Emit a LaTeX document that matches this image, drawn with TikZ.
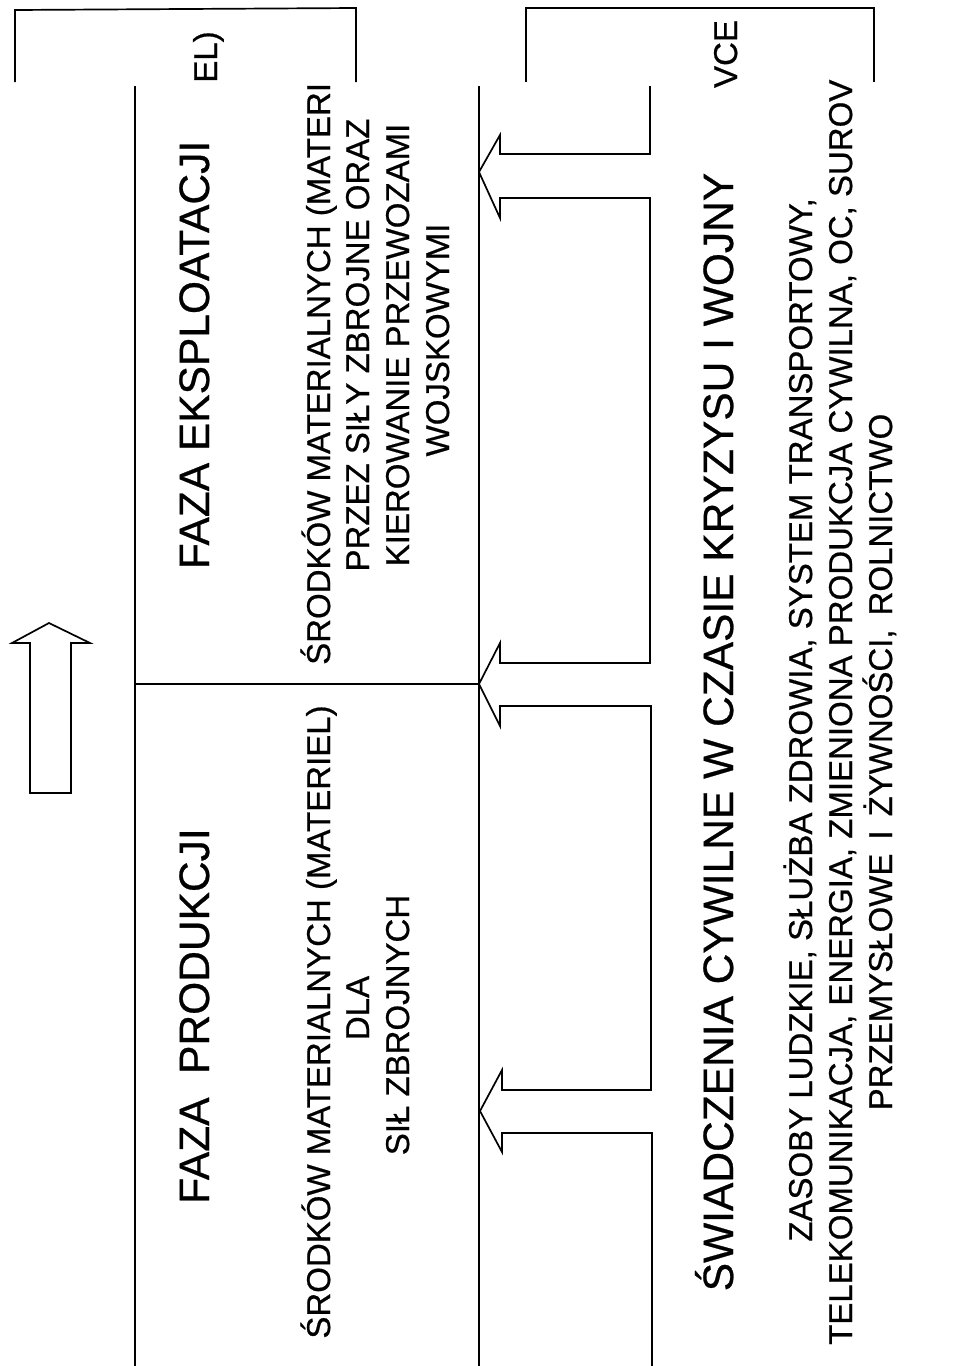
\documentclass[tikz,border=0pt]{standalone}
\usepackage{fontspec}
\setmainfont{Liberation Sans}[FakeBold=0.6]
\tikzset{
  ln/.style={line width=1.7pt, line join=miter},
  body/.style={rotate=90, anchor=base, inner sep=0pt, font=\fontsize{33}{39}\selectfont},
  bodystart/.style={rotate=90, anchor=base west, inner sep=0pt, font=\fontsize{33}{39}\selectfont},
  title/.style={rotate=90, anchor=base, inner sep=0pt, font=\fontsize{42.5}{50}\selectfont},
}
\begin{document}
\begin{tikzpicture}[x=1pt,y=-1pt]
\useasboundingbox (0,0) rectangle (953,1366);
% top partial boxes
\draw[ln] (15,82) -- (15,10) -- (356,8) -- (356,82);
\draw[ln] (526,82) -- (526,8) -- (874,8) -- (874,82);
% main left box
\coordinate (LT) at (135,86);
\coordinate (LB) at (135,1366);
\coordinate (MT) at (479,86);
\coordinate (MB) at (479,1366);
\draw[ln] (LT) -- (LB);
\draw[ln] (MT) -- (MB);
\draw[ln] (135,684) -- (479,684);
% right side with three arrows
\draw[ln] (650,86) -- (650,154) -- (500,154) -- (500,135) -- (479,172) -- (500,218) -- (500,198) -- (650,198)
  -- (650,663) -- (500,663) -- (500,643) -- (479,684) -- (500,726) -- (500,706) -- (651,706)
  -- (651,1090) -- (502,1090) -- (502,1070) -- (480,1111) -- (502,1152) -- (502,1133) -- (652,1133) -- (652,1366);
% big up arrow
\draw[ln] (30,793) -- (30,643) -- (12,643) -- (49,623) -- (90,643) -- (71,643) -- (71,793) -- cycle;
% texts
\node[title] (t1) at (209,1016) {FAZA\ \ PRODUKCJI};
\node[title] (t2) at (209,355) {FAZA EKSPLOATACJI};
\node[body] (a1) at (330,1022) {ŚRODKÓW MATERIALNYCH (MATERIEL)};
\node[body] (a2) at (369,1008) {DLA};
\node[body] (a3) at (409,1025) {SIŁ ZBROJNYCH};
\node[bodystart] (b1) at (330,665) {ŚRODKÓW MATERIALNYCH (MATERI};
\node[body] (b2) at (369,345) {PRZEZ SIŁY ZBROJNE ORAZ};
\node[body] (b3) at (409,345) {KIEROWANIE PRZEWOZAMI};
\node[body] (b4) at (449,340) {WOJSKOWYMI};
\node[body] (el) at (217,57) {EL)};
\node[body] (vce) at (737,54) {VCE};
\node[title] (t3) at (733,732) {ŚWIADCZENIA CYWILNE W CZASIE KRYZYSU I WOJNY};
\node[body] (c1) at (812,720) {ZASOBY LUDZKIE, SŁUŻBA ZDROWIA, SYSTEM TRANSPORTOWY,};
\node[bodystart] (c2) at (852,1345) {TELEKOMUNIKACJA, ENERGIA, ZMIENIONA PRODUKCJA CYWILNA, OC, SUROV};
\node[body] (c3) at (892,762) {\spaceskip=14pt PRZEMYSŁOWE I ŻYWNOŚCI, ROLNICTWO};
\end{tikzpicture}
\end{document}
